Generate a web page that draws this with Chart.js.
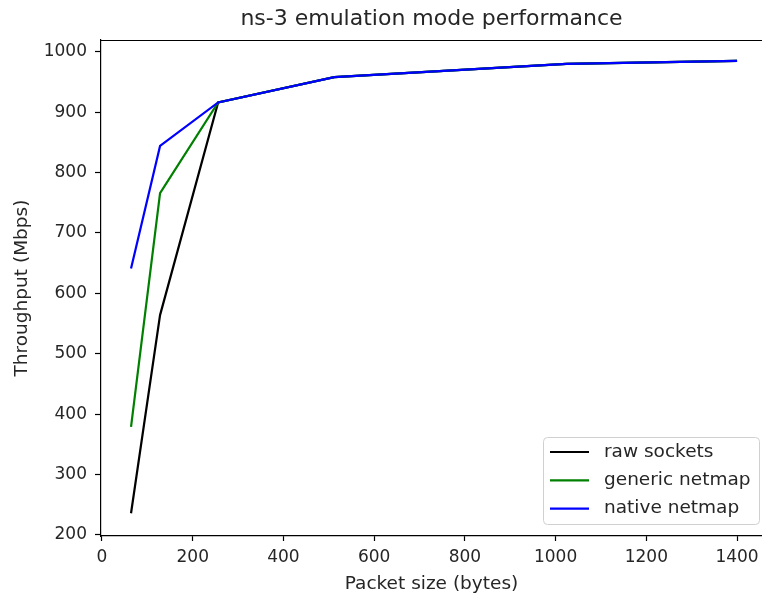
<!DOCTYPE html>
<html>
<head>
<meta charset="utf-8">
<script src="https://cdn.jsdelivr.net/npm/chart.js@4"></script>
<style>
  html, body { margin: 0; padding: 0; background: #fff; }
  #wrap { width: 762px; height: 599px; }
</style>
</head>
<body>
<div id="wrap"><canvas id="perfChart" width="762" height="599"></canvas></div>
<script>
// === ДАННЫЕ ===
const packetSizes = [64, 128, 256, 512, 1024, 1400];
const rawSockets = [236, 564, 916, 958, 980, 985];
const genericNetmap = [379, 766, 916, 958, 980, 985];
const nativeNetmap = [641, 844, 916, 958, 980, 985];
const seriesNames = ['raw sockets', 'generic netmap', 'native netmap'];
const seriesColors = ['#000000', '#008000', '#0000ff'];

const FONT = 'DejaVu Sans';
const TEXT = '#262626';

function toPoints(ys) {
  return packetSizes.map((x, i) => ({ x: x, y: ys[i] }));
}

// верхняя рамка и легенда в стиле matplotlib
const framePlugin = {
  id: 'frame',
  afterDatasetsDraw(chart) {
    const { ctx, chartArea } = chart;
    ctx.save();
    ctx.strokeStyle = '#000';
    ctx.lineWidth = 1.2;
    ctx.beginPath();
    ctx.moveTo(chartArea.left, chartArea.top + 0.5);
    ctx.lineTo(chartArea.right, chartArea.top + 0.5);
    ctx.stroke();

    // легенда (в порядке серий)
    const w = 216, h = 87;
    const x0 = chartArea.right - 3 - w;
    const y0 = chartArea.bottom - 12 - h;
    ctx.fillStyle = 'rgba(255,255,255,0.8)';
    ctx.strokeStyle = '#d0d0d0';
    ctx.lineWidth = 1;
    ctx.beginPath();
    ctx.roundRect(x0 + 0.5, y0 + 0.5, w, h, 4);
    ctx.fill();
    ctx.stroke();
    ctx.font = '18.5px "' + FONT + '"';
    ctx.textBaseline = 'middle';
    ctx.fillStyle = TEXT;
    seriesNames.forEach((name, i) => {
      const cy = y0 + 15 + i * 28.3;
      ctx.strokeStyle = seriesColors[i];
      ctx.lineWidth = 2.2;
      ctx.beginPath();
      ctx.moveTo(x0 + 7, cy);
      ctx.lineTo(x0 + 46, cy);
      ctx.stroke();
      ctx.fillText(name, x0 + 61, cy);
    });
    ctx.restore();
  }
};

const chart = new Chart(document.getElementById('perfChart'), {
  type: 'line',
  data: {
    datasets: [
      { label: seriesNames[0], data: toPoints(rawSockets), borderColor: seriesColors[0], order: 3 },
      { label: seriesNames[1], data: toPoints(genericNetmap), borderColor: seriesColors[1], order: 2 },
      { label: seriesNames[2], data: toPoints(nativeNetmap), borderColor: seriesColors[2], order: 1 }
    ].map(ds => Object.assign(ds, {
      borderWidth: 2.2,
      pointRadius: 0,
      tension: 0,
      fill: false
    }))
  },
  options: {
    responsive: false,
    animation: false,
    layout: { padding: { left: 0, right: 0, top: 0, bottom: 0 } },
    plugins: {
      legend: { display: false },
      tooltip: { enabled: false },
      title: {
        display: true,
        text: 'ns-3 emulation mode performance',
        fullSize: false,
        color: TEXT,
        font: { family: FONT, size: 22, weight: 'normal' },
        padding: { top: 6, bottom: 7.6 }
      }
    },
    scales: {
      x: {
        type: 'linear',
        min: -2.2,
        max: 1455,
        afterFit(scale) {
          scale.height = 63;
          scale.paddingLeft = 0;
          scale.paddingRight = 0;
        },
        border: { display: true, color: '#000', width: 1.2 },
        grid: { drawOnChartArea: false, drawTicks: true, tickLength: 5, color: '#000', tickWidth: 1.2 },
        ticks: {
          stepSize: 200,
          includeBounds: false,
          padding: 6,
          maxRotation: 0,
          color: TEXT,
          font: { family: FONT, size: 17 },
          callback: v => String(v)
        },
        title: {
          display: true,
          text: 'Packet size (bytes)',
          color: TEXT,
          font: { family: FONT, size: 18.5 },
          padding: { top: 5 }
        }
      },
      y: {
        min: 198.3,
        max: 1019.4,
        afterFit(scale) {
          scale.width = 101;
          scale.paddingTop = 0;
          scale.paddingBottom = 0;
        },
        border: { display: true, color: '#000', width: 1.2 },
        grid: { drawOnChartArea: false, drawTicks: true, tickLength: 6, color: '#000', tickWidth: 1.2 },
        ticks: {
          stepSize: 100,
          includeBounds: false,
          padding: 8,
          color: TEXT,
          font: { family: FONT, size: 17 },
          callback: v => String(v)
        },
        title: {
          display: true,
          text: 'Throughput (Mbps)',
          color: TEXT,
          font: { family: FONT, size: 18.5 },
          padding: { top: 11 }
        }
      }
    }
  },
  plugins: [framePlugin]
});
</script>
</body>
</html>
